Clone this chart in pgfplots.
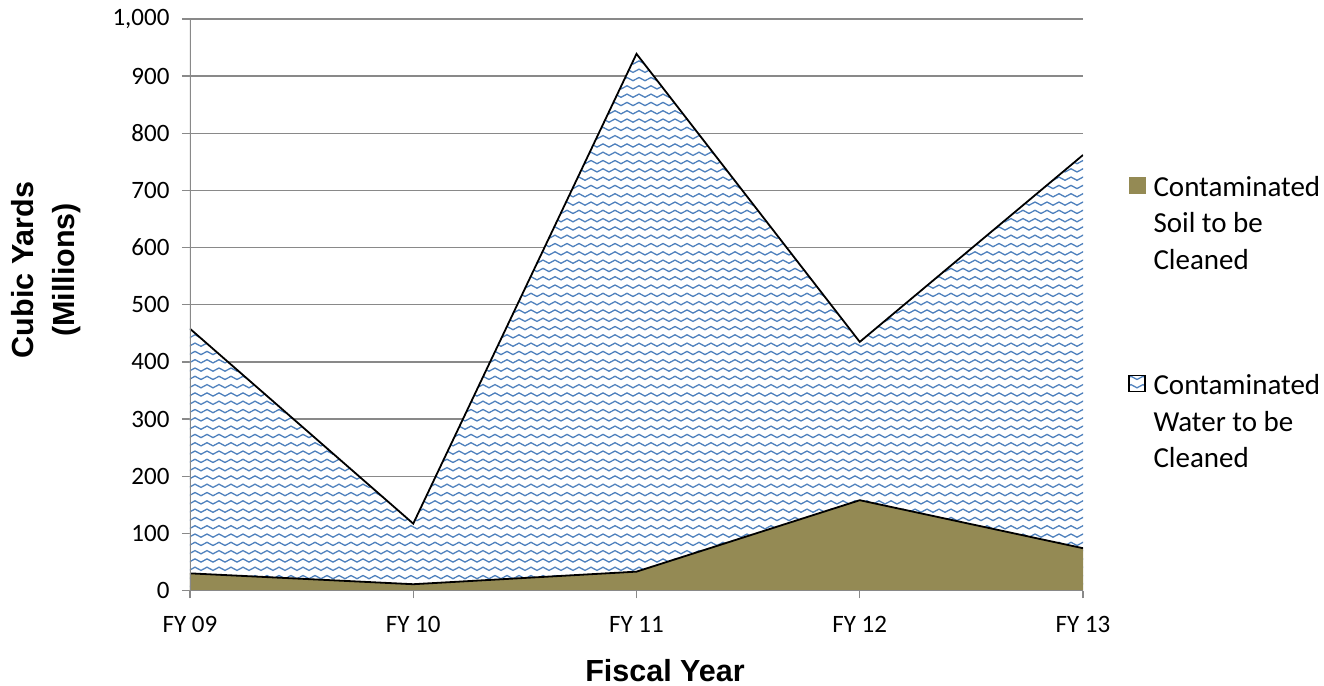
\documentclass[border=0pt]{standalone}
\usepackage{fontspec}
\setmainfont{Carlito}
\newfontfamily\titlefont{Liberation Sans}
\usepackage{pgfplots}
\pgfplotsset{compat=1.18}
\usepackage{pgfplotstable}
\usetikzlibrary{patterns}

\definecolor{soil}{HTML}{948A54}
\definecolor{wave}{HTML}{4F81BD}
\definecolor{gridgray}{HTML}{898989}

% wavy-line hatching used for the water area
\pgfdeclarepatternformonly{waves}{\pgfqpoint{0pt}{-4pt}}{\pgfqpoint{12pt}{4pt}}{\pgfqpoint{12pt}{8.3pt}}{%
  \pgfsetlinewidth{1.3pt}%
  \pgfpathmoveto{\pgfqpoint{0pt}{0pt}}%
  \pgfpathsine{\pgfqpoint{3pt}{1.6pt}}%
  \pgfpathcosine{\pgfqpoint{3pt}{-1.6pt}}%
  \pgfpathsine{\pgfqpoint{3pt}{-1.6pt}}%
  \pgfpathcosine{\pgfqpoint{3pt}{1.6pt}}%
  \pgfusepath{stroke}}

% cubic yards (millions) by fiscal year
\pgfplotstableread{
x soil water
0 30  428
1 11  106
2 33  906
3 158 277
4 74  688
}\cleanup

\begin{document}
\begin{tikzpicture}
\useasboundingbox (-190pt,-94.5pt) rectangle (1134pt,590.5pt);
\begin{axis}[
  at={(0pt,0pt)}, anchor=south west,
  scale only axis, width=893pt, height=571.5pt,
  xmin=0, xmax=4, ymin=0, ymax=1000,
  axis line style={draw=none},
  xtick pos=bottom, ytick pos=left,
  tick align=outside, major tick length=8pt,
  every tick/.style={gridgray, line width=1.3pt},
  xtick={0,1,2,3,4},
  xticklabels={FY 09, FY 10, FY 11, FY 12, FY 13},
  ytick={0,100,...,1000},
  ymajorgrids, grid style={gridgray, line width=1.3pt},
  ticklabel style={font=\fontsize{25}{30}\selectfont, text=black},
  xticklabel style={yshift=-14pt},
  yticklabel style={xshift=-9pt},
  /pgf/number format/1000 sep={,},
  /pgf/number format/assume math mode=true,
  legend cell align=left,
  legend style={draw=none, fill=none, inner sep=0pt,
    at={(axis description cs:1.0504,0.7253)}, anchor=north west,
    row sep=177pt, column sep=8pt,
    nodes={inner sep=0pt},
    font=\fontsize{29}{36.5}\selectfont},
]
\addplot[draw=none, fill=white, postaction={pattern=waves, pattern color=wave}, forget plot]
  table[x=x, y expr=\thisrow{soil}+\thisrow{water}] {\cleanup} \closedcycle;
\addplot[draw=none, fill=soil, forget plot]
  table[x=x, y=soil] {\cleanup} \closedcycle;
\addplot[black, line width=1.8pt, forget plot]
  table[x=x, y expr=\thisrow{soil}+\thisrow{water}] {\cleanup};
\addplot[black, line width=1.8pt, forget plot]
  table[x=x, y=soil] {\cleanup};

% left and bottom axis lines
\draw[gridgray, line width=1.3pt] (rel axis cs:0,1) -- (rel axis cs:0,0) -- (rel axis cs:1,0);

\addlegendimage{legend image code/.code={\fill[soil] (0pt,-6pt) rectangle (16pt,10pt);}}
\addlegendentry{\parbox[t]{180pt}{\raggedright Contaminated\\Soil to be\\Cleaned}}
\addlegendimage{legend image code/.code={%
  \fill[white] (0pt,-6pt) rectangle (16pt,10pt);
  \fill[pattern=waves, pattern color=wave] (0pt,-6pt) rectangle (16pt,10pt);
  \draw[black, line width=1.3pt] (0pt,-6pt) rectangle (16pt,10pt);}}
\addlegendentry{\parbox[t]{180pt}{\raggedright Contaminated\\Water to be\\Cleaned}}
\end{axis}
\node[font=\titlefont\bfseries\fontsize{30.5}{41}\selectfont, anchor=base, inner sep=0pt]
  at (475pt,-90.5pt) {Fiscal Year};
\node[font=\titlefont\bfseries\fontsize{30.5}{41}\selectfont, align=center, rotate=90]
  at (-144pt,320.5pt) {Cubic Yards\\(Millions)};
\end{tikzpicture}
\end{document}
